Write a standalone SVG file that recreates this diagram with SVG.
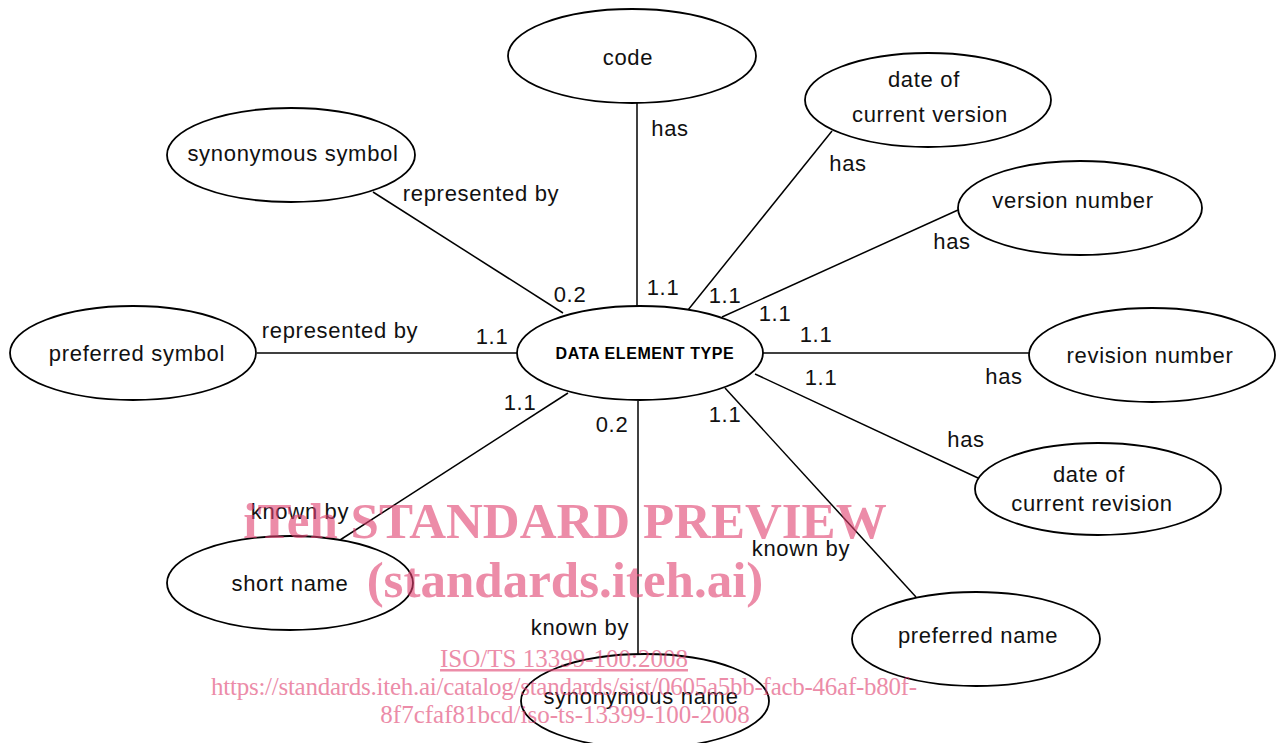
<svg xmlns="http://www.w3.org/2000/svg" width="1284" height="743" viewBox="0 0 1284 743">
  <style>
    .ent { fill: #ffffff; stroke: #000000; stroke-width: 1.8; }
    .conn line { stroke: #000000; stroke-width: 1.5; }
    .t { font-family: "Liberation Sans", Arial, sans-serif; font-size: 22px; letter-spacing: 0.7px; fill: #111111; text-anchor: middle; dominant-baseline: central; }
    .main { font-family: "Liberation Sans", Arial, sans-serif; font-size: 16px; font-weight: bold; letter-spacing: 0.6px; fill: #000000; text-anchor: middle; dominant-baseline: central; }
    .wm { font-family: "Liberation Serif", "Times New Roman", serif; fill: #e0406f; opacity: 0.6; text-anchor: middle; }
    .wm-big { font-size: 51px; font-weight: bold; }
    .wm-small { font-size: 25px; }
    .wm-url { letter-spacing: -0.26px; }
  </style>

  <rect x="0" y="0" width="1284" height="743" fill="#ffffff"/>

  <!-- relationship lines -->
  <g id="connectors" class="conn">
    <line x1="637" y1="103" x2="637" y2="306"/>
    <line x1="373" y1="192" x2="563" y2="313"/>
    <line x1="832" y1="131" x2="688" y2="310"/>
    <line x1="958" y1="210" x2="722" y2="317"/>
    <line x1="763" y1="353" x2="1029" y2="353"/>
    <line x1="755" y1="374" x2="978" y2="478"/>
    <line x1="725" y1="388" x2="916" y2="597"/>
    <line x1="638" y1="401" x2="638" y2="654"/>
    <line x1="340" y1="540" x2="568" y2="393"/>
    <line x1="257" y1="353" x2="517" y2="353"/>
  </g>

  <!-- entities -->
  <g id="data-element-type">
    <ellipse class="ent" cx="640" cy="353" rx="123" ry="47"/>
    <text class="main" x="645" y="353">DATA ELEMENT TYPE</text>
  </g>
  <g id="code">
    <ellipse class="ent" cx="632" cy="56" rx="124" ry="47"/>
    <text class="t" x="628" y="57">code</text>
  </g>
  <g id="synonymous-symbol">
    <ellipse class="ent" cx="291" cy="155" rx="124" ry="47"/>
    <text class="t" x="293" y="153">synonymous symbol</text>
  </g>
  <g id="date-of-current-version">
    <ellipse class="ent" cx="928" cy="100" rx="123" ry="47"/>
    <text class="t" x="924" y="79">date of</text>
    <text class="t" x="930" y="114">current version</text>
  </g>
  <g id="version-number">
    <ellipse class="ent" cx="1080" cy="208" rx="122" ry="47"/>
    <text class="t" x="1073" y="200">version number</text>
  </g>
  <g id="revision-number">
    <ellipse class="ent" cx="1152" cy="355" rx="123" ry="47"/>
    <text class="t" x="1150" y="355">revision number</text>
  </g>
  <g id="date-of-current-revision">
    <ellipse class="ent" cx="1098" cy="489" rx="123" ry="46"/>
    <text class="t" x="1089" y="474">date of</text>
    <text class="t" x="1092" y="503">current revision</text>
  </g>
  <g id="preferred-name">
    <ellipse class="ent" cx="976" cy="639" rx="124" ry="47"/>
    <text class="t" x="978" y="635">preferred name</text>
  </g>
  <g id="synonymous-name">
    <ellipse class="ent" cx="645" cy="701" rx="124" ry="47"/>
    <text class="t" x="641" y="696">synonymous name</text>
  </g>
  <g id="short-name">
    <ellipse class="ent" cx="290" cy="583" rx="123" ry="47"/>
    <text class="t" x="290" y="583">short name</text>
  </g>
  <g id="preferred-symbol">
    <ellipse class="ent" cx="133" cy="353" rx="123" ry="47"/>
    <text class="t" x="137" y="353">preferred symbol</text>
  </g>

  <!-- role names and cardinalities -->
  <g id="labels">
    <text class="t" x="670" y="128">has</text>
    <text class="t" x="663" y="287">1.1</text>
    <text class="t" x="481" y="193">represented by</text>
    <text class="t" x="570" y="294">0.2</text>
    <text class="t" x="848" y="163">has</text>
    <text class="t" x="725" y="295">1.1</text>
    <text class="t" x="952" y="241">has</text>
    <text class="t" x="775" y="313">1.1</text>
    <text class="t" x="816" y="334">1.1</text>
    <text class="t" x="1004" y="376">has</text>
    <text class="t" x="821" y="377">1.1</text>
    <text class="t" x="966" y="439">has</text>
    <text class="t" x="725" y="414">1.1</text>
    <text class="t" x="801" y="548">known by</text>
    <text class="t" x="612" y="424">0.2</text>
    <text class="t" x="580" y="627">known by</text>
    <text class="t" x="520" y="402">1.1</text>
    <text class="t" x="300" y="511">known by</text>
    <text class="t" x="340" y="330">represented by</text>
    <text class="t" x="492" y="336">1.1</text>
  </g>

  <!-- preview stamp -->
  <g id="stamp">
    <text class="wm wm-big" x="565" y="538">iTeh STANDARD PREVIEW</text>
    <text class="wm wm-big" x="565" y="597">(standards.iteh.ai)</text>
    <text class="wm wm-small" x="564" y="667" text-decoration="underline">ISO/TS 13399-100:2008</text>
    <text class="wm wm-small wm-url" x="564" y="695">https://standards.iteh.ai/catalog/standards/sist/0605a5bb-facb-46af-b80f-</text>
    <text class="wm wm-small" x="565" y="723">8f7cfaf81bcd/iso-ts-13399-100-2008</text>
  </g>
</svg>
